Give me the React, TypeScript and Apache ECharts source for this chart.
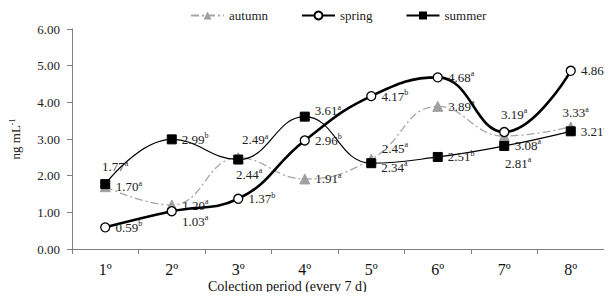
import React, { useEffect, useRef } from "react";
import * as echarts from "echarts";

const categories = ["1º", "2º", "3º", "4º", "5º", "6º", "7º", "8º"];

const autumnValues = [1.7, 1.2, 2.49, 1.91, 2.45, 3.89, 3.08, 3.33];
const autumnLetters = ["a", "a", "a", "a", "a", "a", "a", "a"];

const springValues = [0.59, 1.03, 1.37, 2.96, 4.17, 4.68, 3.19, 4.86];
const springLetters = ["b", "a", "b", "b", "b", "a", "a", "b"];

const summerValues = [1.77, 2.99, 2.44, 3.61, 2.34, 2.51, 2.81, 3.21];
const summerLetters = ["a", "b", "a", "a", "a", "b", "a", "a"];

const yTicks = [0, 1, 2, 3, 4, 5, 6];

// label placement style: [position, dx, dy]
type Place = [string, number, number];
const autumnPlace: Place[] = [
  ["right", 0, 0], ["right", 0, 0], ["top", 17, 0], ["right", 0, 0],
  ["right", 0, -11], ["right", 0, 0], ["right", 0, 9], ["top", 5, 4],
];
const springPlace: Place[] = [
  ["right", 0, 0], ["right", 0, 10], ["right", 0, 0], ["right", 0, 0],
  ["right", 0, 0], ["right", 0, 0], ["top", 10, 0], ["right", 0, 0],
];
const summerPlace: Place[] = [
  ["top", 10, 0], ["right", 0, 0], ["bottom", 11, -3], ["right", 0, -6],
  ["right", 0, 4], ["right", 0, 0], ["bottom", 14, 0], ["right", 0, 0],
];

const SERIF = "serif";

const rich = {
  v: { fontFamily: SERIF, fontSize: 13, color: "#222", lineHeight: 15 },
  s: { fontFamily: SERIF, fontSize: 8, color: "#222", lineHeight: 8, padding: [0, 0, 7, 0] },
};

function buildData(values: number[], letters: string[], places: Place[]) {
  return values.map((v, i) => ({
    value: v,
    label: {
      show: true,
      position: places[i][0],
      offset: [places[i][1], places[i][2]],
      distance: 5,
      fontFamily: SERIF,
      formatter: `{v|${v.toFixed(2)}}{s|${letters[i]}}`,
      rich,
    },
  }));
}

export default function App() {
  const ref = useRef<HTMLDivElement>(null);
  useEffect(() => {
    if (!ref.current) return;
    const chart = echarts.init(ref.current, null, { renderer: "svg" });
    chart.setOption({
      animation: false,
      backgroundColor: "#ffffff",
      textStyle: { fontFamily: SERIF },
      grid: { left: 67, right: 8, top: 29, bottom: 51, containLabel: false },
      legend: {
        left: 185,
        top: 4,
        itemWidth: 33,
        itemHeight: 10,
        itemGap: 33,
        textStyle: { fontFamily: SERIF, fontSize: 13, color: "#222" },
        data: ["autumn", "spring", "summer"],
      },
      xAxis: {
        type: "category",
        data: categories,
        boundaryGap: true,
        axisLine: { lineStyle: { color: "#7f7f7f", width: 1 } },
        axisTick: { show: true, length: 5, lineStyle: { color: "#7f7f7f" } },
        axisLabel: { fontFamily: SERIF, fontSize: 16, color: "#111", margin: 12 },
        splitLine: { show: false },
      },
      yAxis: {
        type: "value",
        min: 0,
        max: yTicks[yTicks.length - 1],
        interval: 1,
        name: "{a|ng mL}{b|-1}",
        nameLocation: "middle",
        nameGap: 49,
        nameRotate: 90,
        nameTextStyle: {
          fontFamily: SERIF,
          rich: {
            a: { fontFamily: SERIF, fontSize: 13, color: "#222", lineHeight: 15 },
            b: { fontFamily: SERIF, fontSize: 8, color: "#222", lineHeight: 8, padding: [0, 0, 7, 0] },
          },
        },
        axisLine: { show: true, lineStyle: { color: "#7f7f7f", width: 1 } },
        axisTick: { show: true, length: 5, lineStyle: { color: "#7f7f7f" } },
        axisLabel: {
          fontFamily: SERIF,
          fontSize: 13,
          color: "#222",
          margin: 12,
          formatter: (v: number) => v.toFixed(2),
        },
        splitLine: { show: false },
      },
      graphic: [
        {
          type: "text",
          left: 208,
          top: 279,
          style: {
            text: "Colection period (every 7 d)",
            fontFamily: SERIF,
            fontSize: 14,
            fill: "#111",
          },
        },
      ],
      series: [
        {
          name: "autumn",
          type: "line",
          smooth: 0.45,
          data: buildData(autumnValues, autumnLetters, autumnPlace),
          symbol: "triangle",
          symbolSize: 10,
          itemStyle: { color: "#a0a0a0", borderColor: "#a0a0a0" },
          lineStyle: { color: "#a6a6a6", width: 1.3, type: [8, 3, 2, 3] },
          z: 2,
        },
        {
          name: "spring",
          type: "line",
          smooth: 0.45,
          data: buildData(springValues, springLetters, springPlace),
          symbol: "circle",
          symbolSize: 9,
          itemStyle: { color: "#ffffff", borderColor: "#000000", borderWidth: 1.3 },
          lineStyle: { color: "#000000", width: 2.6 },
          z: 3,
        },
        {
          name: "summer",
          type: "line",
          smooth: 0.45,
          data: buildData(summerValues, summerLetters, summerPlace),
          symbol: "rect",
          symbolSize: 9,
          itemStyle: { color: "#000000", borderColor: "#000000" },
          lineStyle: { color: "#000000", width: 1.2 },
          z: 4,
        },
      ],
    });
    return () => chart.dispose();
  }, []);
  return <div ref={ref} style={{ width: 612, height: 300, margin: -8 }} />;
}
